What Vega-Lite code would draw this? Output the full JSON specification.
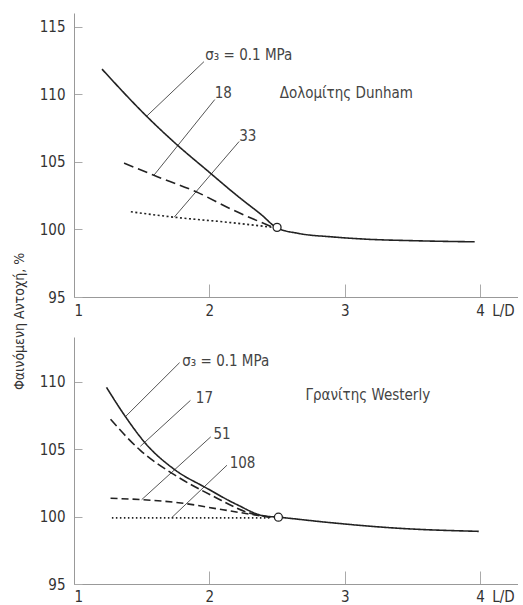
{
  "$schema": "https://vega.github.io/schema/vega-lite/v6.json",
  "padding": {"left": 11, "top": 13, "right": 0, "bottom": 0},
  "bounds": "flush",
  "spacing": 40,
  "config": {
    "view": {"stroke": null},
    "font": "DejaVu Sans Condensed, Liberation Sans, sans-serif",
    "axis": {
      "grid": false,
      "domainColor": "#999999",
      "tickColor": "#aaaaaa",
      "labelColor": "#333333",
      "labelFontSize": 15,
      "labelFont": "DejaVu Sans Condensed, Liberation Sans, sans-serif",
      "titleFont": "DejaVu Sans Condensed, Liberation Sans, sans-serif",
      "titleFontWeight": "normal",
      "titleColor": "#333333"
    }
  },
  "datasets": {
    "curves": [
      {"panel": "top", "series": "0.1", "x": 1.207, "y": 111.85},
      {"panel": "top", "series": "0.1", "x": 1.539, "y": 108.34},
      {"panel": "top", "series": "0.1", "x": 1.748, "y": 106.37},
      {"panel": "top", "series": "0.1", "x": 1.994, "y": 104.27},
      {"panel": "top", "series": "0.1", "x": 2.215, "y": 102.41},
      {"panel": "top", "series": "0.1", "x": 2.387, "y": 101.06},
      {"panel": "top", "series": "0.1", "x": 2.498, "y": 100.12},
      {"panel": "top", "series": "0.1", "x": 2.66, "y": 99.7},
      {"panel": "top", "series": "0.1", "x": 2.9, "y": 99.45},
      {"panel": "top", "series": "0.1", "x": 3.15, "y": 99.28},
      {"panel": "top", "series": "0.1", "x": 3.52, "y": 99.16},
      {"panel": "top", "series": "0.1", "x": 3.96, "y": 99.08},
      {"panel": "top", "series": "18", "x": 1.37, "y": 104.9},
      {"panel": "top", "series": "18", "x": 1.59, "y": 104.0},
      {"panel": "top", "series": "18", "x": 1.92, "y": 102.7},
      {"panel": "top", "series": "18", "x": 2.16, "y": 101.5},
      {"panel": "top", "series": "18", "x": 2.46, "y": 100.2},
      {"panel": "top", "series": "33", "x": 1.42, "y": 101.3},
      {"panel": "top", "series": "33", "x": 1.74, "y": 100.9},
      {"panel": "top", "series": "33", "x": 2.16, "y": 100.5},
      {"panel": "top", "series": "33", "x": 2.47, "y": 100.15},
      {"panel": "bottom", "series": "0.1", "x": 1.24, "y": 109.57},
      {"panel": "bottom", "series": "0.1", "x": 1.38, "y": 107.4},
      {"panel": "bottom", "series": "0.1", "x": 1.53, "y": 105.4},
      {"panel": "bottom", "series": "0.1", "x": 1.74, "y": 103.5},
      {"panel": "bottom", "series": "0.1", "x": 1.98, "y": 102.1},
      {"panel": "bottom", "series": "0.1", "x": 2.2, "y": 100.9},
      {"panel": "bottom", "series": "0.1", "x": 2.4, "y": 100.05},
      {"panel": "bottom", "series": "0.1", "x": 2.51, "y": 99.95},
      {"panel": "bottom", "series": "0.1", "x": 2.89, "y": 99.55},
      {"panel": "bottom", "series": "0.1", "x": 3.38, "y": 99.14},
      {"panel": "bottom", "series": "0.1", "x": 3.99, "y": 98.9},
      {"panel": "bottom", "series": "17", "x": 1.27, "y": 107.2},
      {"panel": "bottom", "series": "17", "x": 1.49, "y": 104.9},
      {"panel": "bottom", "series": "17", "x": 1.74, "y": 103.1},
      {"panel": "bottom", "series": "17", "x": 2.03, "y": 101.5},
      {"panel": "bottom", "series": "17", "x": 2.3, "y": 100.25},
      {"panel": "bottom", "series": "17", "x": 2.45, "y": 99.95},
      {"panel": "bottom", "series": "51", "x": 1.27, "y": 101.35},
      {"panel": "bottom", "series": "51", "x": 1.5, "y": 101.25},
      {"panel": "bottom", "series": "51", "x": 1.79, "y": 101.0},
      {"panel": "bottom", "series": "51", "x": 2.1, "y": 100.5},
      {"panel": "bottom", "series": "51", "x": 2.38, "y": 100.05},
      {"panel": "bottom", "series": "51", "x": 2.45, "y": 99.95},
      {"panel": "bottom", "series": "108", "x": 1.28, "y": 99.9},
      {"panel": "bottom", "series": "108", "x": 2.45, "y": 99.9}
    ],
    "leaders": [
      {"panel": "top", "id": "a", "x": 1.96, "y": 112.4},
      {"panel": "top", "id": "a", "x": 1.54, "y": 108.4},
      {"panel": "top", "id": "b", "x": 2.04, "y": 109.6},
      {"panel": "top", "id": "b", "x": 1.59, "y": 104.0},
      {"panel": "top", "id": "c", "x": 2.22, "y": 106.5},
      {"panel": "top", "id": "c", "x": 1.74, "y": 100.9},
      {"panel": "bottom", "id": "a", "x": 1.78, "y": 111.4},
      {"panel": "bottom", "id": "a", "x": 1.38, "y": 107.4},
      {"panel": "bottom", "id": "b", "x": 1.86, "y": 108.6},
      {"panel": "bottom", "id": "b", "x": 1.49, "y": 105.2},
      {"panel": "bottom", "id": "c", "x": 2.01, "y": 105.9},
      {"panel": "bottom", "id": "c", "x": 1.5, "y": 101.25},
      {"panel": "bottom", "id": "d", "x": 2.13, "y": 103.8},
      {"panel": "bottom", "id": "d", "x": 1.72, "y": 99.9}
    ],
    "labels": [
      {"panel": "top", "x": 1.97, "y": 112.9, "text": "σ₃ = 0.1 MPa"},
      {"panel": "top", "x": 2.04, "y": 110.1, "text": "18"},
      {"panel": "top", "x": 2.22, "y": 106.9, "text": "33"},
      {"panel": "top", "x": 2.52, "y": 110.1, "text": "Δολομίτης Dunham"},
      {"panel": "bottom", "x": 1.8, "y": 111.5, "text": "σ₃ = 0.1 MPa"},
      {"panel": "bottom", "x": 1.9, "y": 108.8, "text": "17"},
      {"panel": "bottom", "x": 2.03, "y": 106.1, "text": "51"},
      {"panel": "bottom", "x": 2.15, "y": 104.0, "text": "108"},
      {"panel": "bottom", "x": 2.71, "y": 109.0, "text": "Γρανίτης Westerly"}
    ],
    "points": [
      {"panel": "top", "x": 2.5, "y": 100.15},
      {"panel": "bottom", "x": 2.51, "y": 99.95}
    ]
  },
  "vconcat": [
    {
      "width": 444,
      "height": 284,
      "layer": [
        {
          "data": {"name": "leaders"},
          "transform": [{"filter": "datum.panel == 'top'"}],
          "mark": {"type": "line", "color": "#555555", "strokeWidth": 1},
          "encoding": {
            "x": {"field": "x", "type": "quantitative", "scale": {"domain": [1, 4.28], "nice": false, "zero": false},
              "axis": {"values": [1, 2, 3, 4], "format": "d", "tickSize": -13, "labelPadding": 19, "title": "L/D", "titleFontSize": 15, "titleX": 429, "titleY": 6, "titleColor": "#333333"}},
            "y": {"field": "y", "type": "quantitative", "scale": {"domain": [95, 116], "nice": false, "zero": false},
              "axis": {"values": [95, 100, 105, 110, 115], "format": "d", "tickSize": -8, "labelPadding": 17, "title": null}},
            "detail": {"field": "id"}
          }
        },
        {
          "data": {"name": "curves"},
          "transform": [{"filter": "datum.panel == 'top'"}],
          "mark": {"type": "line", "color": "#222222", "strokeWidth": 1.6, "interpolate": "monotone"},
          "encoding": {
            "x": {"field": "x", "type": "quantitative"},
            "y": {"field": "y", "type": "quantitative"},
            "detail": {"field": "series"},
            "strokeDash": {"field": "series", "type": "nominal", "legend": null,
              "scale": {"domain": ["0.1", "18", "33"], "range": [[1, 0], [10, 5], [2, 2.5]]}}
          }
        },
        {
          "data": {"name": "labels"},
          "transform": [{"filter": "datum.panel == 'top'"}],
          "mark": {"type": "text", "align": "left", "baseline": "middle", "fontSize": 15, "color": "#444444"},
          "encoding": {
            "x": {"field": "x", "type": "quantitative"},
            "y": {"field": "y", "type": "quantitative"},
            "text": {"field": "text"}
          }
        },
        {
          "data": {"name": "points"},
          "transform": [{"filter": "datum.panel == 'top'"}],
          "mark": {"type": "point", "shape": "circle", "size": 64, "filled": true, "fill": "white", "stroke": "#222222", "strokeWidth": 1.3, "opacity": 1},
          "encoding": {
            "x": {"field": "x", "type": "quantitative"},
            "y": {"field": "y", "type": "quantitative"}
          }
        }
      ]
    },
    {
      "width": 444,
      "height": 247,
      "layer": [
        {
          "data": {"name": "leaders"},
          "transform": [{"filter": "datum.panel == 'bottom'"}],
          "mark": {"type": "line", "color": "#555555", "strokeWidth": 1},
          "encoding": {
            "x": {"field": "x", "type": "quantitative", "scale": {"domain": [1, 4.28], "nice": false, "zero": false},
              "axis": {"values": [1, 2, 3, 4], "format": "d", "tickSize": -13, "labelPadding": 18, "title": "L/D", "titleFontSize": 15, "titleX": 429, "titleY": 5, "titleColor": "#333333"}},
            "y": {"field": "y", "type": "quantitative", "scale": {"domain": [95, 113.3], "nice": false, "zero": false},
              "axis": {"values": [95, 100, 105, 110], "format": "d", "tickSize": -8, "labelPadding": 17, "title": "Φαινόμενη Αντοχή, %", "titleFontSize": 14, "titleX": -48, "titleY": -16, "titleAlign": "center"}},
            "detail": {"field": "id"}
          }
        },
        {
          "data": {"name": "curves"},
          "transform": [{"filter": "datum.panel == 'bottom'"}],
          "mark": {"type": "line", "color": "#222222", "strokeWidth": 1.6, "interpolate": "monotone"},
          "encoding": {
            "x": {"field": "x", "type": "quantitative"},
            "y": {"field": "y", "type": "quantitative"},
            "detail": {"field": "series"},
            "strokeDash": {"field": "series", "type": "nominal", "legend": null,
              "scale": {"domain": ["0.1", "17", "51", "108"], "range": [[1, 0], [9, 4], [7, 4], [1.5, 2.5]]}}
          }
        },
        {
          "data": {"name": "labels"},
          "transform": [{"filter": "datum.panel == 'bottom'"}],
          "mark": {"type": "text", "align": "left", "baseline": "middle", "fontSize": 15, "color": "#444444"},
          "encoding": {
            "x": {"field": "x", "type": "quantitative"},
            "y": {"field": "y", "type": "quantitative"},
            "text": {"field": "text"}
          }
        },
        {
          "data": {"name": "points"},
          "transform": [{"filter": "datum.panel == 'bottom'"}],
          "mark": {"type": "point", "shape": "circle", "size": 64, "filled": true, "fill": "white", "stroke": "#222222", "strokeWidth": 1.3, "opacity": 1},
          "encoding": {
            "x": {"field": "x", "type": "quantitative"},
            "y": {"field": "y", "type": "quantitative"}
          }
        }
      ]
    }
  ],
  "resolve": {"scale": {"strokeDash": "independent"}}
}
